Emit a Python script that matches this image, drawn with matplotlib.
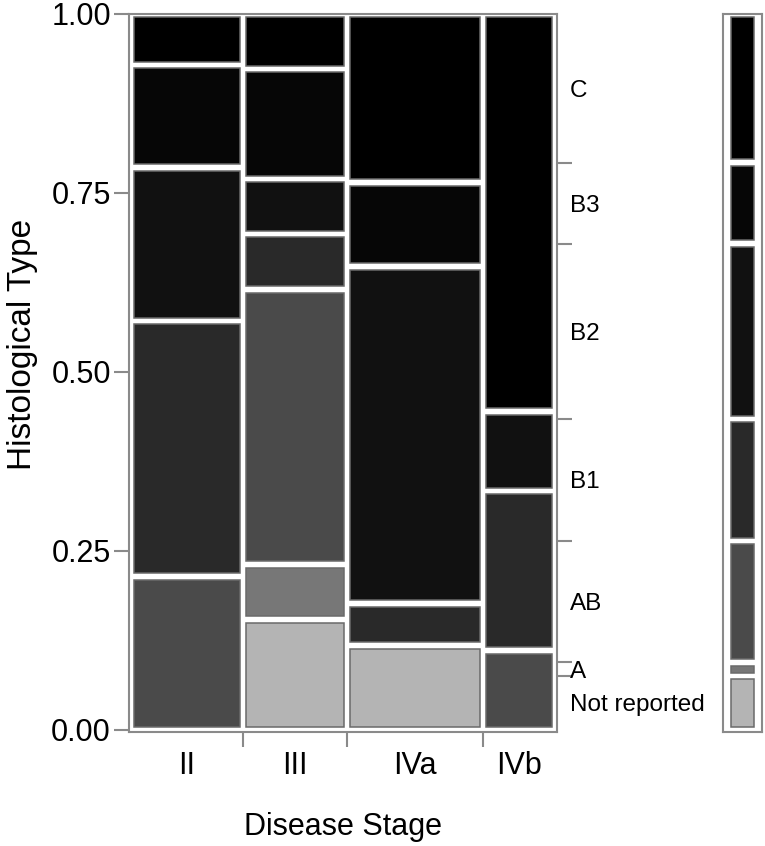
import numpy as np
import matplotlib
matplotlib.use("Agg")
import matplotlib.pyplot as plt

plt.rcParams['font.family'] = ['Liberation Sans', 'DejaVu Sans']

# mosaic: disease stage x histological type (patient counts)
stages = ['II', 'III', 'IVa', 'IVb']
types = ['Not reported', 'A', 'AB', 'B1', 'B2', 'B3', 'C']
counts = {
    'II':  [0, 0, 3, 5, 3, 2, 1],
    'III': [2, 1, 5, 1, 1, 2, 1],
    'IVa': [2, 0, 0, 1, 8, 2, 4],
    'IVb': [0, 0, 1, 2, 1, 0, 5],
}
colors = ['#b4b4b4', '#777777', '#4a4a4a', '#292929', '#111111', '#060606', '#000000']

grey = '#8a8a8a'
edge = '#6a6a6a'
gx = 0.0075   # half gap between tiles (x)
gy = 0.0045   # half gap between tiles (y)

tab = np.array([counts[s] for s in stages], dtype=float)
col_tot = tab.sum(axis=1)
col_w = col_tot / col_tot.sum()
col_x = np.concatenate([[0], np.cumsum(col_w)])

fig = plt.figure(figsize=(7.65, 8.46), dpi=100)
ax = fig.add_axes([129/765, 114/846, 428/765, 718/846])

for i, s in enumerate(stages):
    props = tab[i] / col_tot[i]
    bottoms = np.concatenate([[0], np.cumsum(props)[:-1]])
    for j in range(len(types)):
        if props[j] == 0:
            continue
        ax.bar(col_x[i] + gx, props[j] - 2*gy, width=col_w[i] - 2*gx,
               bottom=bottoms[j] + gy, align='edge', color=colors[j],
               edgecolor=edge, linewidth=1.1)

ax.set_xlim(-0.005, 1.005)
ax.set_ylim(-0.003, 1.0)

for sp in ax.spines.values():
    sp.set_color(grey)
    sp.set_linewidth(1.5)

ax.set_yticks([0, 0.25, 0.5, 0.75, 1.0])
ax.set_yticklabels(['0.00', '0.25', '0.50', '0.75', '1.00'])
ax.tick_params(axis='y', length=11, width=1.5, color=grey, labelsize=22, pad=2)

# stage boundaries as ticks, names in the middle
ax.set_xticks(col_x[1:-1])
ax.set_xticklabels([])
ax.set_xticks((col_x[:-1] + col_x[1:]) / 2, minor=True)
ax.set_xticklabels(stages, minor=True)
ax.tick_params(axis='x', which='major', length=11, width=1.5, color=grey)
ax.tick_params(axis='x', which='minor', length=0, labelsize=22, pad=14)

ax.set_xlabel('Disease Stage', fontsize=22, labelpad=22)
ax.set_ylabel('Histological Type', fontsize=24)
ax.yaxis.set_label_coords(-0.2126, 0.54)

# right side: overall type shares
marg = tab.sum(axis=0) / tab.sum()
marg_y = np.concatenate([[0], np.cumsum(marg)])
ax2 = ax.twinx()
ax2.set_ylim(ax.get_ylim())
ax2.set_yticks(marg_y[1:-1])
ax2.set_yticklabels([])
ax2.set_yticks((marg_y[:-1] + marg_y[1:]) / 2, minor=True)
ax2.set_yticklabels(types, minor=True)
ax2.tick_params(axis='y', which='major', length=11, width=1.5, color=grey)
ax2.tick_params(axis='y', which='minor', length=0, labelsize=17.5, pad=9)
for sp in ax2.spines.values():
    sp.set_visible(False)

# marginal bar
axm = fig.add_axes([723/765, 114/846, 39/765, 718/846])
for j in range(len(types)):
    axm.bar(0.2, marg[j] - 2*gy, width=0.6, bottom=marg_y[j] + gy, align='edge',
            color=colors[j], edgecolor=edge, linewidth=1.1)
axm.set_xlim(0, 1)
axm.set_ylim(-0.003, 1.0)
axm.set_xticks([])
axm.set_yticks([])
for sp in axm.spines.values():
    sp.set_color(grey)
    sp.set_linewidth(1.5)

fig.savefig('out.png', dpi=100)
